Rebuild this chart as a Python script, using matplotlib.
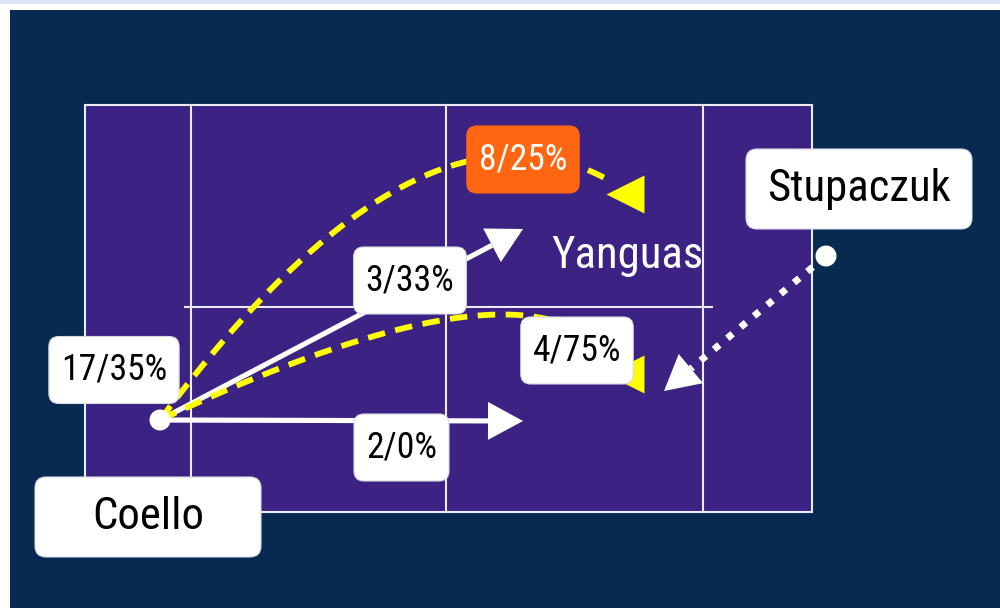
import numpy as np
import matplotlib
matplotlib.use("Agg")
import matplotlib.pyplot as plt
from matplotlib.patches import Rectangle, FancyBboxPatch, Polygon, Circle
from matplotlib import font_manager
from matplotlib.font_manager import FontProperties

# ---------------- data ----------------
players = ["Coello", "Stupaczuk", "Yanguas"]
player_dot_x = [160, 826]          # Coello, Stupaczuk dots
player_dot_y = [420, 256]
name_box_x = [148, 859]            # Coello, Stupaczuk name boxes
name_box_y = [517, 189]
yanguas_xy = (627, 256)

shot_counts = [17, 8, 4, 3, 2]
shot_pcts = [35, 25, 75, 33, 0]
shot_label_x = [114, 523, 577, 410, 401.5]
shot_label_y = [370, 159.5, 350.5, 280.5, 447.5]
shot_highlight = [False, True, False, False, False]

# lob curves (quadratic bezier: start, control, end) and marker position
lob_start = [(160, 420), (160, 420)]
lob_ctrl = [(420, 71.5), (540, 241.5)]
lob_end = [(612, 182), (615, 365)]
lob_marker = [(625, 194), (625, 374)]

# straight shots: start -> tip
drive_start = [(160, 420), (160, 420)]
drive_tip = [(523, 421), (523, 229)]
opp_start = (826, 256)
opp_tip = (664, 391)

# court geometry
court_x0, court_x1 = 85, 812
court_y0, court_y1 = 105, 512
court_vlines = [191, 446, 703]
center_line = (185, 712, 307)

# ---------------- style ----------------
NAVY = "#062a52"
PURPLE = "#3b2283"
ORANGE = "#ff6612"
YELLOW = "#ffff00"
LINE = "#ecebf5"


def pick_font():
    cands = []
    for f in font_manager.fontManager.ttflist:
        nm = f.name.lower()
        fn = f.fname.lower()
        cond = ("narrow" in nm or "condensed" in nm or "condensed" in fn or "narrow" in fn
                or str(f.stretch) in ("condensed", "semi-condensed", "extra-condensed"))
        if not cond or f.style != "normal" or "mono" in nm or "serif" in nm and "sans" not in nm:
            continue
        if f.weight not in (400, "normal", "regular", "book"):
            continue
        if "semi" in fn or "extra" in fn or "ultra" in fn:
            pri = 5
        else:
            pri = 0
        if "liberation" in nm:
            pri += 0
        elif "roboto" in nm:
            pri += 1
        elif "noto" in nm:
            pri += 2
        elif "open" in nm:
            pri += 3
        else:
            pri += 4
        cands.append((pri, f.fname))
    if cands:
        cands.sort()
        return FontProperties(fname=cands[0][1])
    return FontProperties(family=["Roboto", "DejaVu Sans"])


FP = pick_font()

W, H = 1000, 608
fig = plt.figure(figsize=(W / 100, H / 100), dpi=100)
fig.patch.set_facecolor("white")
ax = fig.add_axes([0, 0, 1, 1])
ax.set_xlim(0, W)
ax.set_ylim(H, 0)
ax.axis("off")

# calibrate font size against the name width in the reference
fig.canvas.draw()
renderer = fig.canvas.get_renderer()
probe = ax.text(0, 0, "Stupaczuk", fontproperties=FP, fontsize=32)
pw = probe.get_window_extent(renderer).width
probe.remove()
scale = min(1.3, max(0.6, 184.0 / pw))
NAME_FS = 32 * scale
STAT_FS = 25.5 * scale

# background
ax.add_patch(Rectangle((0, 0), W, 4, facecolor="#dfe3f5", edgecolor="none", zorder=0))
ax.add_patch(Rectangle((10, 10), W - 10, H - 10, facecolor=NAVY, edgecolor="none", zorder=0))

# court
ax.add_patch(Rectangle((court_x0, court_y0), court_x1 - court_x0, court_y1 - court_y0,
                       facecolor=PURPLE, edgecolor=LINE, lw=1.5, zorder=1))
for vx in court_vlines:
    ax.plot([vx, vx], [court_y0, court_y1], color=LINE, lw=1.5, zorder=1.5)
ax.plot([center_line[0], center_line[1]], [center_line[2], center_line[2]], color=LINE, lw=1.5, zorder=1.5)


def arrow(p0, tip, color, ls, lw, z, head_len=35, head_w=38, dashes=None):
    p0 = np.array(p0, float)
    tip = np.array(tip, float)
    d = tip - p0
    d /= np.hypot(*d)
    n = np.array([-d[1], d[0]])
    base = tip - d * head_len
    line, = ax.plot([p0[0], base[0]], [p0[1], base[1]], color=color, lw=lw, ls=ls,
                    solid_capstyle="butt", dash_capstyle="butt", zorder=z)
    if dashes is not None:
        line.set_dashes(dashes)
    ax.add_patch(Polygon([tip, base + n * head_w / 2, base - n * head_w / 2], closed=True,
                         facecolor=color, edgecolor="none", zorder=z))


# straight drives
for s, t in zip(drive_start, drive_tip):
    arrow(s, t, "white", "-", 3.7, 3)
# opponent dotted arrow
arrow(opp_start, opp_tip, "white", "-", 5.0, 3, dashes=(1, 1.5))

# lobs
tt = np.linspace(0, 1, 200)
for s, c, e, m in zip(lob_start, lob_ctrl, lob_end, lob_marker):
    s, c, e = map(np.array, (s, c, e))
    pts = ((1 - tt) ** 2)[:, None] * s + (2 * tt * (1 - tt))[:, None] * c + (tt ** 2)[:, None] * e
    ln, = ax.plot(pts[:, 0], pts[:, 1], color=YELLOW, lw=4.2, zorder=4, dash_capstyle="butt")
    ln.set_dashes((3.0, 1.8))
    ax.plot([m[0]], [m[1]], marker="<", ms=27, color=YELLOW, mec="none", zorder=4)

# dots
for x, y in zip(player_dot_x, player_dot_y):
    ax.add_patch(Circle((x, y), 10.5, facecolor="white", edgecolor="none", zorder=6))

# shot labels
for cnt, pct, x, y, hl in zip(shot_counts, shot_pcts, shot_label_x, shot_label_y, shot_highlight):
    txt = ax.text(x, y, f"{cnt}/{pct}%", fontproperties=FP, fontsize=STAT_FS, ha="center",
                  va="center", color="white" if hl else "black", zorder=8)
    bb = txt.get_window_extent(renderer)
    bw = bb.width + 24
    bh = 67
    ax.add_patch(FancyBboxPatch((x - bw / 2, y - bh / 2), bw, bh,
                                boxstyle="round,pad=0,rounding_size=10",
                                facecolor=ORANGE if hl else "white",
                                edgecolor=ORANGE if hl else "#d8d8e0", lw=0.8, zorder=7))

# name boxes
for name, x, y in zip(players[:2], name_box_x, name_box_y):
    bw, bh = 226, 80
    ax.add_patch(FancyBboxPatch((x - bw / 2, y - bh / 2), bw, bh,
                                boxstyle="round,pad=0,rounding_size=11",
                                facecolor="white", edgecolor="#d8d8e0", lw=0.8, zorder=7))
    ax.text(x, y, name, fontproperties=FP, fontsize=NAME_FS, ha="center", va="center",
            color="black", zorder=8)

ax.text(yanguas_xy[0], yanguas_xy[1], players[2], fontproperties=FP, fontsize=NAME_FS,
        ha="center", va="center", color="white", zorder=8)

fig.savefig("out.png", dpi=100, facecolor=fig.get_facecolor())
